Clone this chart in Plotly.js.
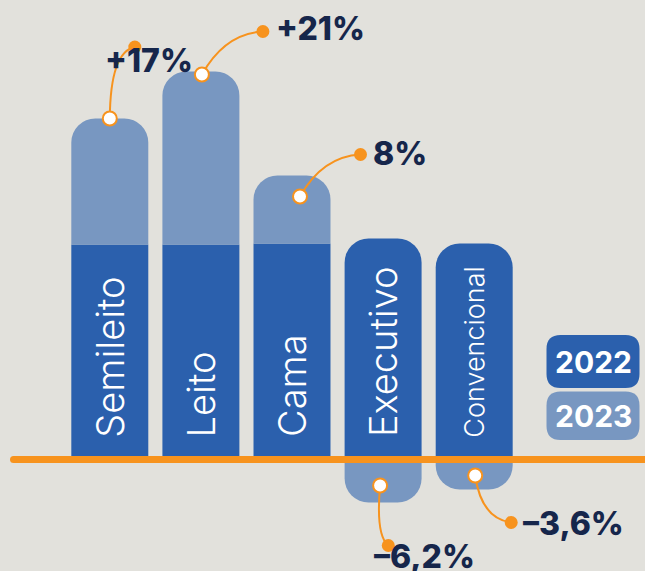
<!DOCTYPE html>
<html><head><meta charset="utf-8">
<script src="https://cdn.plot.ly/plotly-3.0.1.min.js"></script>
<style>html,body{margin:0;padding:0;background:#e2e1dc;overflow:hidden}</style>
</head><body><div id="chart" style="width:645px;height:571px"></div>
<script>
// ---- data (bar heights, arbitrary units) ----
const categories = ['Semileito', 'Leito', 'Cama', 'Executivo', 'Convencional'];
const values2022 = [215, 215, 216, 221, 216];
const change2023 = [126, 173, 68, -43, -30];
const changeLabels = ['+17%', '+21%', '8%', '\u20136,2%', '\u20133,6%'];
const legendLabels = ['2022', '2023'];

// ---- styling ----
const BG = '#e2e1dc', DARK = '#2b60ad', LIGHT = '#7897c1', ORANGE = '#f7931e', NAVY = '#16264b';
const W = 645, H = 571, ML = 0, MR = 0, MT = 0, MB = 0;
const STEP = 91.1;      // px per category
const FIRST = 109.8;    // px centre of first category
const xr = [-(FIRST - ML) / STEP, (W - MR - FIRST) / STEP];
const yr = [-(H - 459.5), 459.5];
const px2x = p => xr[0] + (p - ML) / (W - ML - MR) * (xr[1] - xr[0]);
const py2y = p => yr[1] - (p - MT) / (H - MT - MB) * (yr[1] - yr[0]);
const x2px = v => ML + (v - xr[0]) / (xr[1] - xr[0]) * (W - ML - MR);
const y2py = v => MT + (yr[1] - v) / (yr[1] - yr[0]) * (H - MT - MB);

// decoration offsets (screen px): white marker relative to bar end, dot/control relative to marker, label relative to dot
const markerOff = [[0, 0], [1, 3], [8, 21], [-3, -17], [1, -14]];
const dotOff = [[25, -71.5], [61, -43], [60.5, -42], [8.2, 60], [36, 47]];
const ctrlOff = [[0.5, -66.5], [23, -41], [22.5, -40], [-4.5, 50], [6, 43]];
const labelOff = [[-32, 13], [11, -2.7], [10, -1.5], [-16, 11], [10, 1]];
const catFont = [38, 38, 38, 38, 27];

const xs = categories.map((c, i) => i);
const traces = [
  { type: 'bar', x: xs, y: values2022, name: legendLabels[0], marker: { color: DARK, cornerradius: 24 }, hoverinfo: 'skip', width: 0.845 },
  { type: 'bar', x: xs, y: change2023, name: legendLabels[1], marker: { color: LIGHT }, hoverinfo: 'skip', width: 0.845 }
];

const shapes = [];
const annotations = [];
// baseline
shapes.push({ type: 'line', xref: 'x', yref: 'y', x0: px2x(13.5), x1: px2x(650), y0: 0, y1: 0, line: { color: ORANGE, width: 7 }, layer: 'above' });
shapes.push({ type: 'circle', xref: 'x', yref: 'y', x0: px2x(10), x1: px2x(17), y0: py2y(463), y1: py2y(456), fillcolor: ORANGE, line: { width: 0 }, layer: 'above' });

const circ = (cx, cy, r, fill, lc, lw) => ({ type: 'circle', xref: 'x', yref: 'y', x0: px2x(cx - r), x1: px2x(cx + r), y0: py2y(cy + r), y1: py2y(cy - r), fillcolor: fill, line: { color: lc, width: lw }, layer: 'above' });

const connectors = [], dots = [], markers = [];
categories.forEach((c, i) => {
  const end = change2023[i] >= 0 ? values2022[i] + change2023[i] : change2023[i];
  const mx = x2px(i) + markerOff[i][0], my = y2py(end) + markerOff[i][1];
  const dx = mx + dotOff[i][0], dy = my + dotOff[i][1];
  const cx = mx + ctrlOff[i][0], cy = my + ctrlOff[i][1];
  connectors.push({ type: 'path', xref: 'x', yref: 'y', layer: 'above',
    path: `M ${px2x(mx)} ${py2y(my)} Q ${px2x(cx)} ${py2y(cy)} ${px2x(dx)} ${py2y(dy)}`,
    line: { color: ORANGE, width: 2 } });
  dots.push(circ(dx, dy, 6.5, ORANGE, ORANGE, 0));
  markers.push(circ(mx, my, 7, '#ffffff', ORANGE, 2));
  annotations.push({ xref: 'x', yref: 'y', x: px2x(dx + labelOff[i][0]), y: py2y(dy + labelOff[i][1]),
    xanchor: 'left', yanchor: 'middle', showarrow: false, text: changeLabels[i],
    font: { family: 'Inter', size: 32, color: NAVY, weight: 800 } });
  // category label inside bar
  annotations.push({ xref: 'x', yref: 'y', x: i, y: 20, xanchor: 'center', yanchor: 'bottom', showarrow: false,
    textangle: -90, text: c, font: { family: 'Inter', size: catFont[i], color: '#ffffff', weight: 300 } });
});
shapes.push(...connectors, ...dots, ...markers);

// legend boxes
function roundRect(x0, y0, x1, y1, r) {
  const X = px2x, Y = py2y;
  return `M ${X(x0 + r)} ${Y(y0)} L ${X(x1 - r)} ${Y(y0)} Q ${X(x1)} ${Y(y0)} ${X(x1)} ${Y(y0 + r)} ` +
    `L ${X(x1)} ${Y(y1 - r)} Q ${X(x1)} ${Y(y1)} ${X(x1 - r)} ${Y(y1)} L ${X(x0 + r)} ${Y(y1)} ` +
    `Q ${X(x0)} ${Y(y1)} ${X(x0)} ${Y(y1 - r)} L ${X(x0)} ${Y(y0 + r)} Q ${X(x0)} ${Y(y0)} ${X(x0 + r)} ${Y(y0)} Z`;
}
const legBoxes = [[546.5, 335, 639.5, 388], [546.5, 391.5, 639.5, 440]];
const legColors = [DARK, LIGHT];
legendLabels.forEach((lab, k) => {
  const b = legBoxes[k];
  shapes.push({ type: 'path', xref: 'x', yref: 'y', layer: 'above', path: roundRect(b[0], b[1], b[2], b[3], 14), fillcolor: legColors[k], line: { width: 0 } });
  annotations.push({ xref: 'x', yref: 'y', x: px2x((b[0] + b[2]) / 2), y: py2y((b[1] + b[3]) / 2), xanchor: 'center', yanchor: 'middle',
    showarrow: false, text: lab, font: { family: 'Inter', size: 30, color: '#ffffff', weight: 700 } });
});

const layout = {
  width: W, height: H, margin: { l: ML, r: MR, t: MT, b: MB, pad: 0 },
  paper_bgcolor: BG, plot_bgcolor: BG, showlegend: false, barmode: 'relative',
  xaxis: { range: xr, visible: false, fixedrange: true },
  yaxis: { range: yr, visible: false, fixedrange: true },
  shapes, annotations
};
Plotly.newPlot('chart', traces, layout, { displayModeBar: false, staticPlot: true });
</script></body></html>
